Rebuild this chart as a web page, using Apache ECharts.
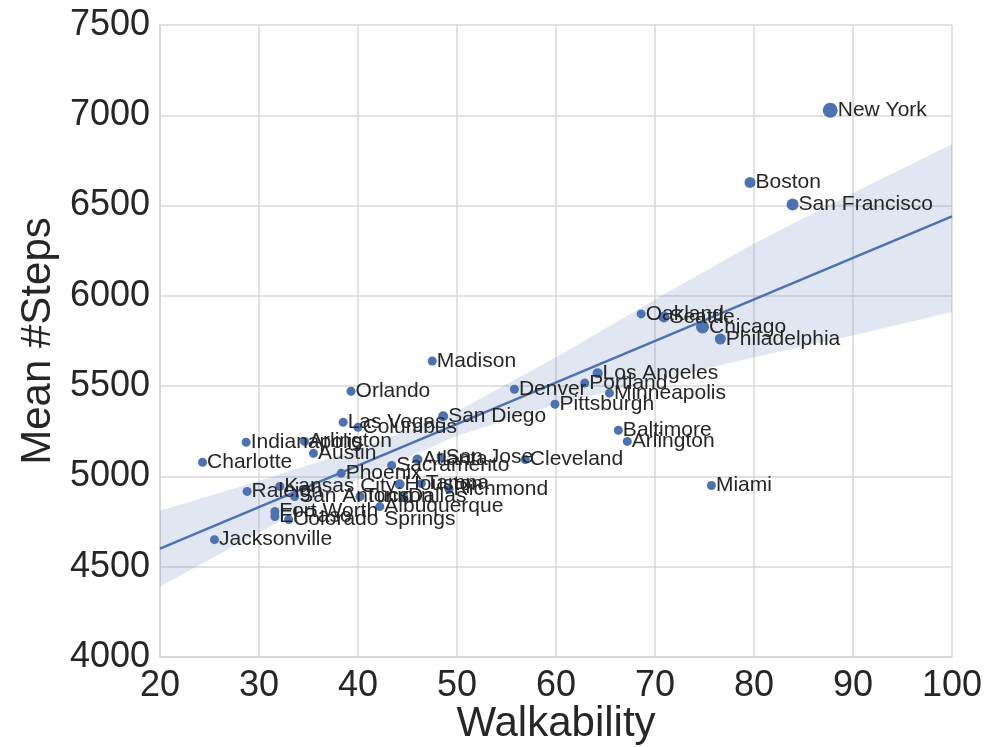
<!DOCTYPE html>
<html>
<head>
<meta charset="utf-8">
<script src="https://cdn.jsdelivr.net/npm/echarts@6/dist/echarts.min.js"></script>
<style>
html,body{margin:0;padding:0;background:#fff;}
#chart{width:1000px;height:747px;}
</style>
</head>
<body>
<div id="chart"></div>
<script>
// ---- data ----
const cities = ["New York","Boston","San Francisco","Oakland","Seattle","Chicago","Philadelphia",
  "Los Angeles","Portland","Minneapolis","Denver","Pittsburgh","Baltimore","Arlington","Cleveland",
  "Miami","Madison","Orlando","San Diego","Las Vegas","Columbus","Indianapolis","Arlington","Austin",
  "Charlotte","Atlanta","San Jose","Sacramento","Phoenix","Kansas City","Raleigh","San Antonio",
  "Houston","Tampa","Richmond","Tucson","Dallas","Albuquerque","Fort Worth","El Paso",
  "Colorado Springs","Jacksonville"];
const walkability = [87.7,79.6,83.9,68.6,70.9,74.8,76.6,
  64.2,62.9,65.4,55.8,59.9,66.3,67.2,56.9,
  75.7,47.5,39.3,48.6,38.5,40.0,28.7,34.6,35.5,
  24.3,46.0,48.4,43.4,38.3,32.1,28.8,33.6,
  44.2,46.4,49.2,40.2,44.6,42.2,31.6,31.6,
  33.0,25.5];
const meanSteps = [7028,6628,6506,5900,5883,5828,5761,
  5572,5517,5461,5483,5400,5256,5194,5094,
  4950,5639,5472,5333,5300,5272,5189,5194,5128,
  5078,5094,5106,5061,5017,4944,4917,4889,
  4956,4961,4928,4889,4889,4833,4806,4778,
  4761,4650];

// regression fit and confidence band
const fitX = [20, 100];
const fitY = [4600, 6440];
const bandX = [20, 30, 40, 50, 60, 70, 80, 90, 100];
const bandUpper = [4810, 4975, 5150, 5360, 5660, 5980, 6290, 6570, 6840];
const bandLower = [4390, 4690, 4985, 5225, 5400, 5530, 5660, 5780, 5910];

const xTicks = [20,30,40,50,60,70,80,90,100];
const yTicks = [4000,4500,5000,5500,6000,6500,7000,7500];

// ---- styling ----
const BLUE = '#4c72b0';
const TXT = '#262626';
const bigMarkers = {"New York":15, "Chicago":13, "San Francisco":12, "Philadelphia":11,
  "Boston":11, "Seattle":11, "Los Angeles":10, "San Diego":10, "Atlanta":10, "Houston":10};

const points = cities.map((c, i) => ({name: c, value: [walkability[i], meanSteps[i]]}));

const chart = echarts.init(document.getElementById('chart'), null, {renderer: 'canvas'});
const FONT = '"Liberation Sans", Arial, sans-serif';

chart.setOption({
  backgroundColor: '#ffffff',
  animation: false,
  grid: {left: 160, right: 48, top: 25, bottom: 90, show: false,
         containLabel: false, outerBoundsMode: 'none'},
  xAxis: {
    type: 'value', min: xTicks[0], max: xTicks[xTicks.length-1], interval: 10,
    name: 'Walkability', nameLocation: 'middle', nameGap: 46, nameMoveOverlap: false,
    nameTextStyle: {fontFamily: FONT, fontSize: 42, color: TXT},
    axisLine: {show: true, lineStyle: {color: '#d4d4d4', width: 1.5}},
    axisTick: {show: false},
    axisLabel: {fontFamily: FONT, fontSize: 36, color: TXT, margin: 11},
    splitLine: {show: true, lineStyle: {color: '#d9d9d9', width: 1.5}}
  },
  yAxis: {
    type: 'value', min: yTicks[0], max: yTicks[yTicks.length-1], interval: 500,
    name: 'Mean #Steps', nameLocation: 'middle', nameGap: 101,
    nameTextStyle: {fontFamily: FONT, fontSize: 42, color: TXT},
    axisLine: {show: true, lineStyle: {color: '#d4d4d4', width: 1.5}},
    axisTick: {show: false},
    axisLabel: {fontFamily: FONT, fontSize: 36, color: TXT, margin: 10,
      formatter: function (v) { return String(v); }},
    splitLine: {show: true, lineStyle: {color: '#d9d9d9', width: 1.5}}
  },
  series: [
    {
      type: 'custom',
      z: 1,
      clip: true,
      silent: true,
      data: [0],
      renderItem: function (params, api) {
        const pts = [];
        for (let i = 0; i < bandX.length; i++) pts.push(api.coord([bandX[i], bandUpper[i]]));
        for (let i = bandX.length - 1; i >= 0; i--) pts.push(api.coord([bandX[i], bandLower[i]]));
        return {type: 'polygon', shape: {points: pts}, style: {fill: 'rgba(76,114,176,0.17)', stroke: null}};
      }
    },
    {
      type: 'line', z: 2, silent: true, symbol: 'none',
      data: fitX.map((x, i) => [x, fitY[i]]),
      lineStyle: {color: BLUE, width: 2.5}
    },
    {
      type: 'scatter', z: 3,
      data: points,
      symbolSize: function (v, p) { return bigMarkers[p.name] || 9; },
      itemStyle: {color: BLUE, opacity: 1},
      label: {
        show: true, position: 'right', distance: 0, offset: [0, -7],
        formatter: '{b}', fontFamily: FONT, fontSize: 21, color: TXT
      },
      labelLayout: {hideOverlap: false}
    }
  ]
});
</script>
</body>
</html>
